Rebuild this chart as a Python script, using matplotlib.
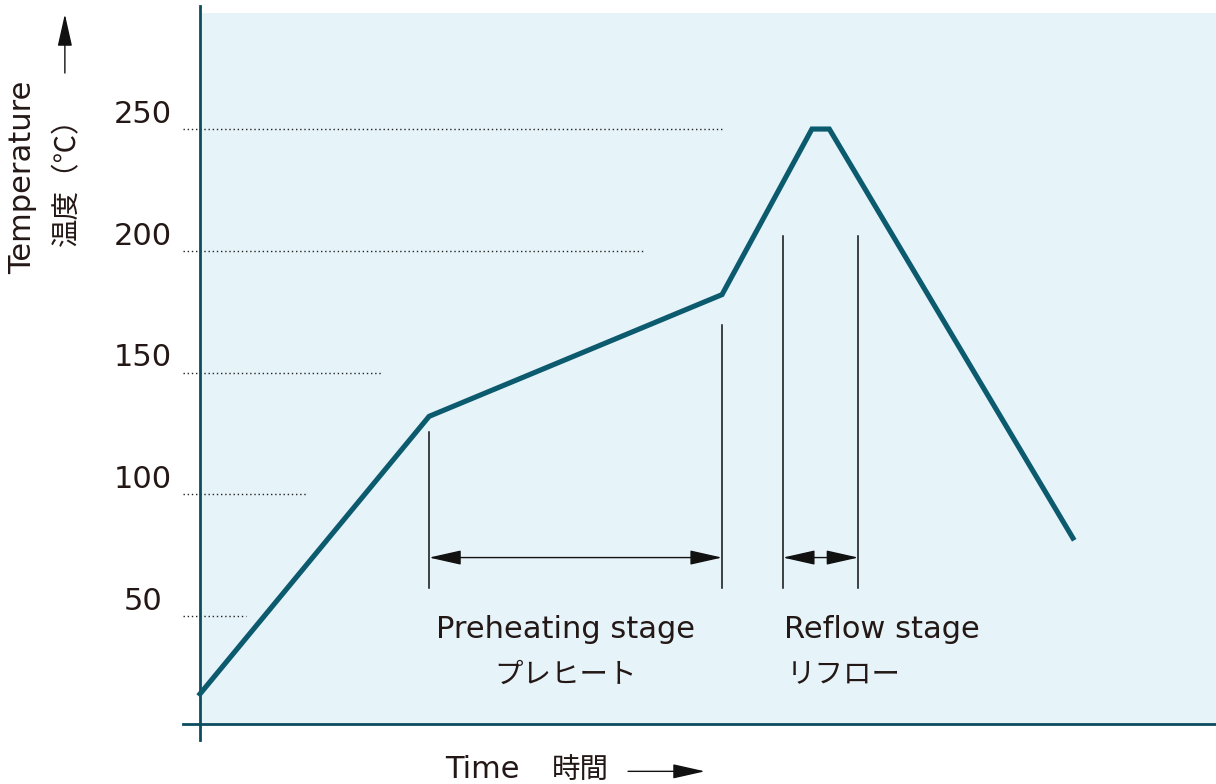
import matplotlib.pyplot as plt
from matplotlib.patches import Rectangle, FancyArrowPatch

plt.rcParams['font.family'] = ['DejaVu Sans', 'Noto Sans CJK JP']

# reflow profile (time in arbitrary units, temperature in degC)
time = [0, 79, 180, 211, 217, 301]
temp = [18, 132, 182, 250, 250, 82]

# dotted reference lines: temperature level and how far right they run
grid_temp = [250, 200, 150, 100, 50]
grid_end = [180, 153, 63, 37, 16]
tick_labels = ["250", "200", "150", "100", "50"]

# stage markers: (x, top of marker)
pre_x = [79, 180]
pre_top = [125.5, 169.5]
reflow_x = [201, 227]
reflow_top = [206, 206]
marker_bottom = 61.5
arrow_y = 74

INK = "#231815"
AXIS = "#0b4c5f"
CURVE = "#0c5a6d"
BG = "#e6f3f9"
FS = 22        # latin text
FJ = 20.5      # japanese text
JP = "Noto Sans CJK JP"

fig = plt.figure(figsize=(12.16, 7.84), dpi=100)
ax = fig.add_axes([0, 0, 1, 1])
ax.set_xlim(-68.97, 350.34)
ax.set_ylim(-19.0, 303.0)
ax.axis("off")

ax.add_patch(Rectangle((0.7, 5.6), 350, 292, color=BG, lw=0, zorder=0))

for T, e, lab in zip(grid_temp, grid_end, tick_labels):
    ax.plot([-5.9, e], [T, T], color="#222222", lw=1.0, ls=(0, (1, 2)), zorder=1)
    ax.text(-19.7, T + 6, lab, fontsize=FS, color=INK, ha="center", va="center")

# axes lines
ax.plot([0, 0], [-0.9, 300.5], color=AXIS, lw=2.0, zorder=3)
ax.plot([-5.9, 350.34], [5.6, 5.6], color=AXIS, lw=2.0, zorder=3)

ax.plot(time, temp, color=CURVE, lw=3.7, solid_joinstyle="miter", zorder=4)

for xs, tops in [(pre_x, pre_top), (reflow_x, reflow_top)]:
    for x, t in zip(xs, tops):
        ax.plot([x, x], [marker_bottom, t], color="#111111", lw=1.1, zorder=2)
    ax.add_patch(FancyArrowPatch((xs[0], arrow_y), (xs[1], arrow_y),
                                 arrowstyle="<|-|>,head_length=20,head_width=4.5",
                                 mutation_scale=1, lw=1.0, color="#111111",
                                 shrinkA=0, shrinkB=0, zorder=2))

ax.text(126, 41, "Preheating stage", fontsize=FS, color=INK, ha="center", va="baseline")
ax.text(126, 25.8, "プレヒート", fontsize=FJ, color=INK, ha="center", va="center", family=JP)
ax.text(201.4, 41, "Reflow stage", fontsize=FS, color=INK, ha="left", va="baseline")
ax.text(202.3, 25.8, "リフロー", fontsize=FJ, color=INK, ha="left", va="center", family=JP)

# axis titles
ax.text(-61.0, 230.3, "Temperature", fontsize=FS, color=INK, rotation=90,
        ha="center", va="center")
ax.text(-45.9, 231.1, "温度（℃）", fontsize=FJ, color=INK, rotation=90,
        ha="center", va="center", family=JP)
ax.add_patch(FancyArrowPatch((-46.6, 273), (-46.6, 297.2),
                             arrowstyle="-|>,head_length=20,head_width=4.5",
                             mutation_scale=1, lw=1.0, color="#111111",
                             shrinkA=0, shrinkB=0))
ax.text(84.5, -13.2, "Time", fontsize=FS, color=INK, ha="left", va="center")
ax.text(121.4, -13.2, "時間", fontsize=FJ, color=INK, ha="left", va="center", family=JP)
ax.add_patch(FancyArrowPatch((147.6, -13.8), (174.1, -13.8),
                             arrowstyle="-|>,head_length=20,head_width=4.5",
                             mutation_scale=1, lw=1.0, color="#111111",
                             shrinkA=0, shrinkB=0))

fig.savefig("out.png", dpi=100)
